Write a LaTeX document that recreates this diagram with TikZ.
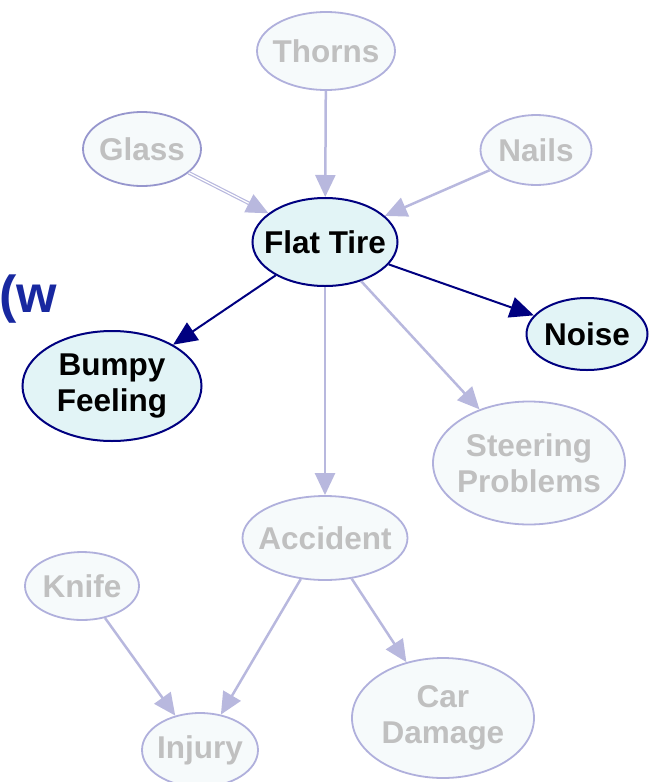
\documentclass[tikz,border=0pt]{standalone}
\usepackage{fontspec}
\setmainfont{Liberation Sans}
\usetikzlibrary{shapes.geometric,arrows.meta}

\definecolor{navyline}{RGB}{0,0,128}
\definecolor{activefill}{RGB}{226,244,246}
\definecolor{fadefill}{RGB}{246,250,251}
\definecolor{fadeline}{RGB}{184,184,222}
\definecolor{fadeborder}{RGB}{176,176,220}
\definecolor{fadetext}{RGB}{192,192,192}
\definecolor{titleblue}{RGB}{24,40,160}
\definecolor{glassborder}{RGB}{150,150,205}

\tikzset{
  % ellipse of fixed size; the caption is set as a centred label
  netnode/.style={ellipse, inner sep=0pt},
  caption/.style={inner sep=0pt, align=center,
    font=\fontsize{31.5}{36.5}\selectfont\bfseries},
  activenode/.style={netnode, draw=navyline, line width=2pt, fill=activefill,
    label={[caption, text=black]center:#1}},
  fadednode/.style={netnode, draw=fadeborder, line width=1.8pt, fill=fadefill,
    label={[caption, text=fadetext]center:#1}},
  activeedge/.style={draw=navyline, line width=2pt,
    -{Triangle[length=24pt,width=21pt]}},
  fadededge/.style={draw=fadeline, line width=2.5pt,
    -{Triangle[length=22pt,width=20pt,fill=fadeline]}},
}

\begin{document}
\begin{tikzpicture}[x=1pt,y=-1pt]
\useasboundingbox (0,0) rectangle (649,782);

% causes
\node[fadednode={Thorns}, minimum width=138pt, minimum height=78pt] (thorns) at (326,51) {};
\node[fadednode={Glass}, draw=glassborder, minimum width=118pt, minimum height=74pt] (glass) at (142,149) {};
\node[fadednode={Nails}, minimum width=111pt, minimum height=70pt] (nails) at (536,150) {};

% central node and its observed effects
\node[activenode={Flat Tire}, minimum width=145pt, minimum height=88pt] (flat) at (325,242) {};
\node[activenode={Noise}, minimum width=121pt, minimum height=72pt] (noise) at (587,334) {};
\node[activenode={Bumpy\\Feeling}, minimum width=179pt, minimum height=110pt] (bumpy) at (112,386) {};

% other consequences
\node[fadednode={Steering\\Problems}, minimum width=192pt, minimum height=123pt] (steer) at (529,463) {};
\node[fadednode={Accident}, minimum width=165pt, minimum height=84pt] (accident) at (325,538) {};
\node[fadednode={Knife}, minimum width=114pt, minimum height=68pt] (knife) at (82,586) {};
\node[fadednode={Car\\Damage}, minimum width=182pt, minimum height=120pt] (car) at (443,718) {};
\node[fadednode={Injury}, minimum width=116pt, minimum height=74pt] (injury) at (200,750) {};

% partly visible heading text at the left edge
\node[anchor=base east, inner sep=0pt, text=titleblue,
  font=\fontsize{52}{60}\selectfont\bfseries] (heading) at (57,312) {(w};

% links
\draw[fadededge] (thorns) -- (flat);
\draw[fadededge, double=white, double distance=1.2pt, line width=1.2pt] (glass) -- (flat);
\draw[fadededge] (nails) -- (flat);
\draw[activeedge] (flat) -- (bumpy);
\draw[activeedge] (flat) -- (noise);
\draw[fadededge] (flat) -- (steer);
\draw[fadededge] (flat) -- (accident);
\draw[fadededge] (accident) -- (injury);
\draw[fadededge] (accident) -- (car);
\draw[fadededge] (knife) -- (injury);
\end{tikzpicture}
\end{document}
